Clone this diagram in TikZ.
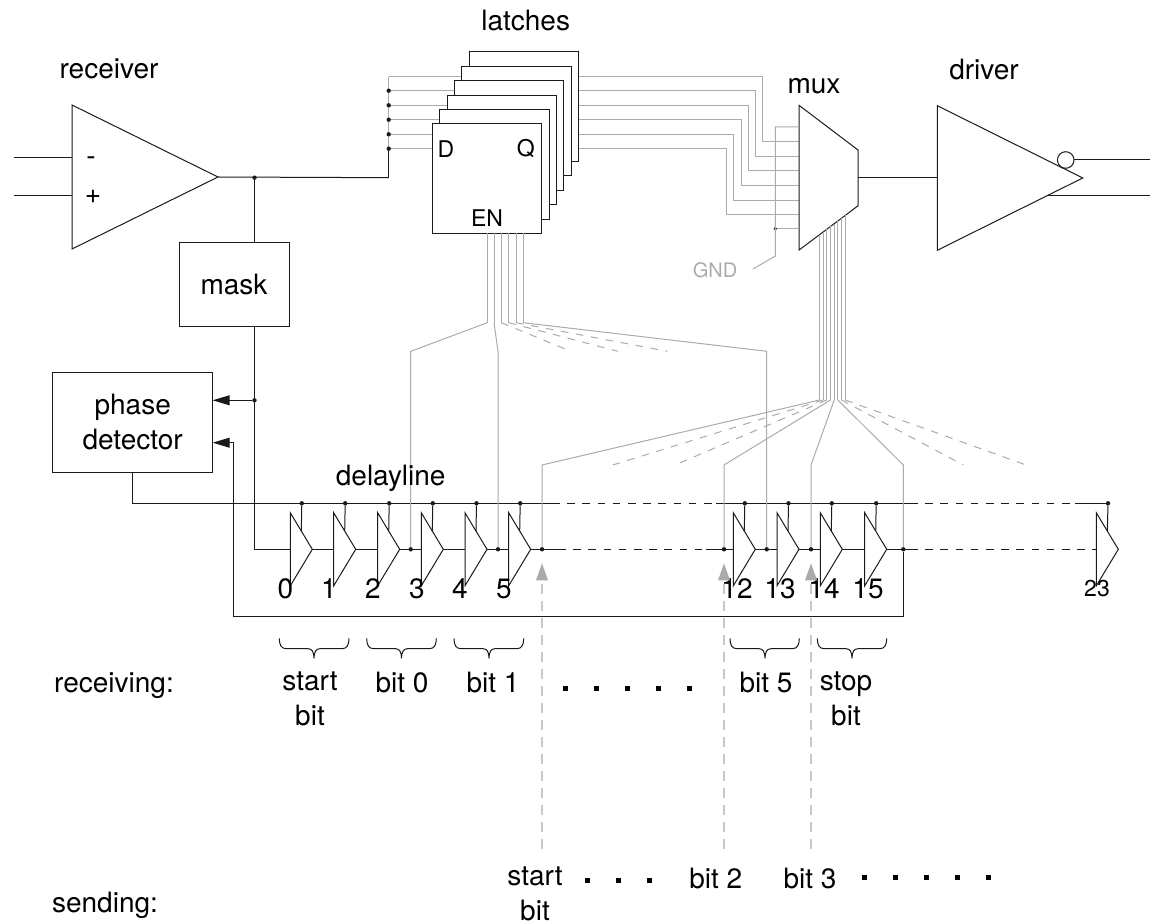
\documentclass[tikz,border=0pt]{standalone}
\usepackage{fontspec}
\setmainfont{TeX Gyre Heros}
\usepackage{xcolor}
\definecolor{ink}{HTML}{1A1A1A}
\definecolor{wiregray}{HTML}{ABABAB}
\definecolor{soft}{HTML}{C8C8C8}
\usetikzlibrary{positioning,calc,arrows.meta,shapes.geometric,backgrounds}

\begin{document}
\begin{tikzpicture}[x=.5pt,y=-.5pt,font=\fontsize{14}{17.5}\selectfont,line width=.5pt,
  every node/.style={inner sep=0pt,outer sep=0pt,align=center},
  box/.style={draw=ink,fill=white},
  latch/.style={box,anchor=north west,minimum width=54.75pt,minimum height=54.75pt},
  amp/.style={draw=ink,isosceles triangle,isosceles triangle stretches,anchor=apex},
  dly/.style={amp,minimum width=36.5pt,minimum height=11pt},
  dot/.style={circle,fill=ink,minimum size=2.2pt},
  sq/.style={fill=black,minimum size=2.5pt},
  wire/.style={draw=wiregray},
  ln/.style={draw=ink},
  dsh/.style={dash pattern=on 3.8pt off 3.8pt},
  sendline/.style={draw=soft,line width=.8pt,dash pattern=on 5pt off 3.5pt},
  small/.style={font=\fontsize{11.5}{14}\selectfont}]
  \useasboundingbox (0,0) rectangle (1150,924);

  \node[amp,minimum width=72pt,minimum height=73pt] (rcv) at (218,177) {};
  \node[amp,minimum width=72.3pt,minimum height=72.7pt] (drv) at (1082.7,178) {};
  \node[minimum width=29.5pt,minimum height=72.4pt] (mux) at (828.5,177.7) {};
  \draw[ln] (mux.north west) -- ($(mux.north east)+(0,44.7)$) -- ($(mux.south east)+(0,-44.3)$) -- (mux.south west) -- cycle;
  \node[box,minimum width=55pt,minimum height=42pt] (mask) at (234,285) {mask};
  \node[box,minimum width=80pt,minimum height=50pt] (phase) at (132.7,422.3) {phase\\detector};
  \node[draw=ink,circle,minimum size=8.3pt] (inv) at (1065.7,160) {};

  \foreach \n/\x/\y in {5/469/52,4/461.5/66.4,3/454.2/80.8,2/447/95.2,1/439.7/109.6,0/432.3/124}
    \node[latch] (l\n) at (\x,\y) {};
  \node[small] (lD) at (446,149) {D};
  \node[small] (lQ) at (525.7,149) {Q};
  \node[small] (lEN) at (487,218) {EN};

  \foreach \n/\y in {0/148.7,1/134.3,2/119.7,3/105.3,4/90.7,5/76.7}
    \coordinate (b\n) at (388.7,\y);
  \foreach \n/\y in {0/214.3,1/200,2/185,3/170.7,4/156,5/141.7}
    \coordinate (m\n) at (799,\y);
  \coordinate (j0) at (388.7,177.7);
  \coordinate (j1) at (254.5,177.7);
  \node[dot] (j2) at (254.5,400.3) {};
  \node[dot] (b1dot) at (b1) {};
  \node[dot] (b0dot) at (b0) {};
  \node[dot] (b2dot) at (b2) {};
  \node[dot] (b3dot) at (b3) {};
  \node[dot] (b4dot) at (b4) {};
  \node[dot] (j1dot) at (j1) {};

  \begin{scope}[on background layer]
    \foreach \n in {0,...,5} \draw[wire] (b\n) -- (b\n -| l\n.west);
    \foreach \n/\x in {0/726,1/733.3,2/741,3/748,4/755,5/762.7}
      \draw[wire] (b\n -| l\n.east) -- (b\n -| \x,0) |- (m\n);
    \draw[ln] (b0) -- (j0);
    \draw[wire] (b0) -- (b5);
  \end{scope}

  \draw[ln] (rcv.apex) -- (j0);
  \coordinate (i0) at (14,158);
  \coordinate (i1) at (14,196);
  \draw[ln] (i0) -- (i0 -| rcv.lower side);
  \draw[ln] (i1) -- (i1 -| rcv.lower side);
  \node (minus) at (91,161) {-};
  \node (plus) at (93,197) {+};
  \draw[ln] (j1) -- (j1 |- mask.north);
  \draw[ln] (j1 |- mask.south) -- (j2);
  \draw[ln,-{Stealth[length=8.5pt,width=5pt,inset=0pt]}] (j2) -- (j2 -| phase.east);
  \draw[ln] (mux.east |- drv.lower side) -- (drv.lower side);
  \coordinate (o0) at (1150,160);
  \coordinate (o1) at (1150,195.3);
  \coordinate (o2) at (1048,195.3);
  \draw[ln] (inv) -- (o0);
  \draw[ln] (o2) -- (o1);

  \coordinate (g0) at (775.3,127);
  \coordinate (g1) at (775.3,256);
  \coordinate (g2) at (753,269);
  \node[dot,minimum size=1.8pt] (gd) at (775.3,228.7) {};
  \draw[wire] (g0 -| mux.west) -- (g0) -- (g1) -- (g2);
  \draw[wire] (gd) -- (gd -| mux.west);
  \node[text=wiregray,font=\fontsize{10}{12}\selectfont] (gnd) at (715,270) {GND};

  \foreach \n/\x/\t in {0/290.3/285.5,1/333.7/329,2/377.7/373,3/421.3/417,4/465/460,5/508.7/504,12/733.3/737,13/777/780,14/820.3/824,15/864.7/868}{
    \node[dly] (d\n) at (\x+22,549.3) {};
    \node[dot] (top\n) at (\x+11.5,503.3) {};
    \draw[ln] (top\n) -- (d\n.left side);
    \node (n\n) at (\t,589) {\n};
  }
  \node[dly] (d23) at (1118.3,549.3) {};
  \node[dot] (top23) at (1108,503.3) {};
  \draw[ln] (top23) -- (d23.left side);
  \node[small] (n23) at (1097,589) {23};

  \foreach \n/\x in {2/410.7,4/498,5/542,11/724,12/766.7,13/811,14/903.3}
    \node[dot] (t\n) at (\x,549.3) {};

  \coordinate (a0) at (133,503.3);
  \coordinate (a1) at (552,503.3);
  \coordinate (a2) at (716,503.3);
  \coordinate (a3) at (910,503.3);
  \coordinate (a4) at (1075,503.3);
  \draw[ln] (phase.south) -- (phase.south |- a0) -- (a1);
  \draw[ln,dsh] (a1) -- (a2);
  \draw[ln] (a2) -- (a3);
  \draw[ln,dsh] (a3) -- (a4);
  \draw[ln] (a4) -- (top23);

  \draw[ln] (j2) -- (j2 |- d0.lower side) -- (d0.lower side);
  \foreach \p/\q in {0/1,1/2,2/3,3/4,4/5,12/13,13/14,14/15} \draw[ln] (d\p.apex) -- (d\q.lower side);
  \coordinate (c0) at (558,549.3);
  \coordinate (c1) at (706,549.3);
  \coordinate (c2) at (910,549.3);
  \draw[ln] (d5.apex) -- (c0);
  \draw[ln,dsh] (c0) -- (c1);
  \draw[ln] (c1) -- (d12.lower side);
  \draw[ln] (d15.apex) -- (c2);
  \draw[ln,dsh] (c2) -- (d23.lower side);

  \coordinate (f0) at (233.3,616);
  \draw[ln,-{Stealth[length=8.5pt,width=5pt,inset=0pt]}] (t14) -- (t14 |- f0) -- (f0) -- (f0 |- 0,442.7) -- (phase.east |- 0,442.7);

  \foreach \n/\x in {0/487.3,1/494,2/501.3,3/508.7,4/516,5/523.3}{
    \coordinate (e\n) at (\x,322.7);
    \draw[wire] (e\n |- l0.south) -- (e\n);
  }
  \draw[wire] (e0) -- (t2 |- 0,351.3) -- (t2);
  \draw[wire] (e1) -- (t4 |- 0,351.3) -- (t4);
  \draw[wire] (e5) -- (t12 |- 0,351.3) -- (t12);
  \foreach \n/\x in {2/570.7,3/618,4/667.3} \draw[wire,dsh] (e\n) -- (\x,351.3);

  \foreach \n/\x in {0/819.5,1/823.2,2/826.8,3/830.5,4/834.2,5/837.8,6/841.5,7/845.2}{
    \coordinate (s\n) at (\x,400);
    \draw[wire] (s\n) -- (\x,{250-(\x-799)*.751});
  }
  \draw[wire] (s0) -- (t5 |- 0,465) -- (t5);
  \draw[wire] (s3) -- (t11 |- 0,465) -- (t11);
  \draw[wire] (s4) -- (t13 |- 0,465) -- (t13);
  \draw[wire] (s5) -- (t14 |- 0,465) -- (t14);
  \foreach \n/\x in {1/612.7,2/675,6/963.3,7/1026} \draw[wire,dsh] (s\n) -- (\x,465);

  \foreach \n/\x in {0/542,1/724,2/811}{
    \coordinate (u\n) at (\x,849);
    \coordinate (v\n) at (\x,563.3);
    \draw[sendline,-{Stealth[length=8.5pt,width=5.8pt,inset=0pt,wiregray]}] (u\n) -- (v\n);
  }

  \foreach \a/\c/\b in {279.3/314/349,366.7/401.5/436.3,454/489/523.7,730/765/799.3,817.3/852/886.7}
    \draw[ln] (\a,638.3) .. controls (\a,645) and (\a+2,648.7) .. (\a+7,648.7) -- (\c-6,648.7) .. controls (\c-2,648.7) and (\c,652) .. (\c,658.3) .. controls (\c,652) and (\c+2,648.7) .. (\c+6,648.7) -- (\b-7,648.7) .. controls (\b-2,648.7) and (\b,645) .. (\b,638.3);

  \node (receiver) at (109,69) {receiver};
  \node (latches) at (525.7,21) {latches};
  \node (muxlabel) at (814,86) {mux};
  \node (driver) at (984,70) {driver};
  \node (delayline) at (390.7,478) {delayline};
  \node (receiving) at (114,686) {receiving:};
  \node (sending) at (105,905) {sending:};
  \node (rstart) at (310,699) {start\\bit};
  \node (rbit0) at (402,683) {bit 0};
  \node (rbit1) at (493,683) {bit 1};
  \node (rbit5) at (766,683) {bit 5};
  \node (rstop) at (846,699) {stop\\bit};
  \node (sstart) at (535,894) {start\\bit};
  \node (sbit2) at (715.7,878) {bit 2};
  \node (sbit3) at (810,878) {bit 3};
  \foreach \x in {565.3,596.5,627.7,658.7,689.7} \node[sq] (r\x) at (\x,688.3) {};
  \foreach \x in {587.3,618.7,649.7} \node[sq] (p\x) at (\x,880.7) {};
  \foreach \x in {864.3,895.7,926.7,957.7,988.7} \node[sq] (q\x) at (\x,877.3) {};
\end{tikzpicture}
\end{document}
